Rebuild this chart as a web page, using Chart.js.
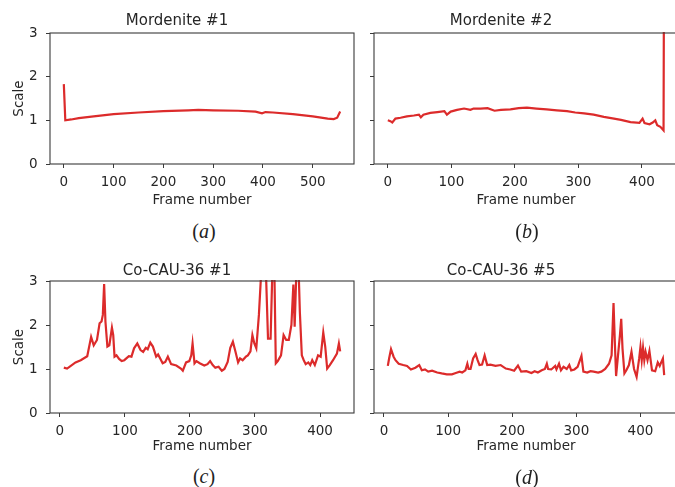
<!DOCTYPE html>
<html lang="en">
<head>
    <meta charset="UTF-8">
    <title>Scale vs frame number</title>
    <script src="https://cdn.jsdelivr.net/npm/chart.js"></script>
    <style>
        body { margin: 0; width: 675px; height: 487px; overflow: hidden; background: #fff; position: relative; }
        canvas { position: absolute; }
        .cap { position: absolute; font-family: "Liberation Serif", serif; font-size: 20px; color: #222; transform: translate(-50%, -50%); }
    </style>
</head>
<body>
    <canvas id="chartA" width="356" height="213" style="left:0px; top:0px"></canvas>
    <canvas id="chartB" width="356" height="213" style="left:324px; top:0px"></canvas>
    <canvas id="chartC" width="356" height="211" style="left:0px; top:248px"></canvas>
    <canvas id="chartD" width="356" height="211" style="left:324px; top:248px"></canvas>
    <div class="cap" style="left:204px; top:231px">(<i>a</i>)</div>
    <div class="cap" style="left:527px; top:231px">(<i>b</i>)</div>
    <div class="cap" style="left:204px; top:476px">(<i>c</i>)</div>
    <div class="cap" style="left:527px; top:477px">(<i>d</i>)</div>
    <script>
        // values
        const titles = ["Mordenite #1", "Mordenite #2", "Co-CAU-36 #1", "Co-CAU-36 #5"];
        const scaleTicks = [0, 1, 2, 3];
        const frameTicksA = [0, 100, 200, 300, 400, 500];
        const frameTicks = [0, 100, 200, 300, 400];

        const framesA = [0, 3, 15, 30, 60, 100, 150, 200, 250, 270, 300, 350, 385, 398, 405, 420, 460, 500, 530, 542, 549, 555];
        const scalesA = [1.83, 1.00, 1.02, 1.05, 1.09, 1.14, 1.18, 1.21, 1.23, 1.24, 1.23, 1.22, 1.20, 1.16, 1.19, 1.18, 1.14, 1.09, 1.04, 1.03, 1.06, 1.20];

        const framesB = [0, 4, 7, 12, 20, 30, 41, 49, 52, 56, 67, 78, 89, 93, 99, 109, 120, 130, 135, 146, 157, 168, 178, 193, 206, 219, 234, 250, 266, 282, 295, 309, 324, 340, 356, 367, 382, 396, 401, 404, 412, 417, 421, 424, 429, 434, 435];
        const scalesB = [1.00, 0.98, 0.95, 1.04, 1.06, 1.09, 1.11, 1.13, 1.07, 1.13, 1.17, 1.19, 1.21, 1.13, 1.20, 1.24, 1.27, 1.24, 1.27, 1.27, 1.28, 1.22, 1.24, 1.25, 1.28, 1.29, 1.27, 1.25, 1.23, 1.21, 1.18, 1.16, 1.13, 1.08, 1.04, 1.01, 0.96, 0.94, 1.04, 0.94, 0.91, 0.95, 1.00, 0.89, 0.85, 0.77, 6.0];

        const framesC = [6, 11, 24, 32, 42, 48, 52, 57, 61, 64, 66, 68, 70, 73, 76, 80, 82, 84, 87, 91, 95, 99, 106, 110, 114, 119, 124, 128, 132, 135, 139, 143, 148, 151, 158, 162, 166, 171, 179, 186, 189, 194, 199, 202, 204, 207, 210, 215, 222, 227, 231, 235, 239, 244, 249, 253, 258, 262, 266, 270, 274, 277, 281, 286, 289, 293, 296, 299, 302, 306, 309, 312, 316, 320, 324, 327, 329, 332, 335, 340, 344, 348, 352, 356, 359, 361, 364, 366, 369, 372, 375, 378, 382, 385, 388, 392, 397, 401, 405, 408, 411, 415, 420, 426, 429, 431];
        const scalesC = [1.03, 1.01, 1.15, 1.20, 1.29, 1.73, 1.54, 1.66, 2.04, 2.08, 2.23, 2.93, 2.08, 1.51, 1.54, 1.94, 1.77, 1.28, 1.31, 1.23, 1.18, 1.20, 1.29, 1.28, 1.47, 1.58, 1.43, 1.39, 1.48, 1.45, 1.60, 1.51, 1.28, 1.33, 1.13, 1.16, 1.28, 1.11, 1.08, 1.01, 0.96, 1.15, 1.18, 1.31, 1.58, 1.13, 1.18, 1.13, 1.08, 1.11, 1.18, 1.09, 1.03, 1.05, 0.96, 1.00, 1.16, 1.48, 1.62, 1.39, 1.15, 1.24, 1.20, 1.28, 1.31, 1.40, 1.77, 1.58, 1.47, 2.23, 3.05, 4.2, 3.6, 1.69, 1.69, 3.4, 4.0, 1.13, 1.18, 1.31, 1.77, 1.66, 1.66, 2.00, 2.92, 1.96, 3.4, 3.8, 2.29, 1.31, 1.20, 1.11, 1.15, 1.09, 1.20, 1.09, 1.31, 1.28, 1.83, 1.51, 1.01, 1.09, 1.20, 1.35, 1.58, 1.40];

        const framesD = [6, 8, 11, 15, 18, 23, 30, 36, 42, 49, 55, 59, 64, 69, 75, 83, 90, 98, 106, 112, 118, 122, 127, 130, 132, 135, 139, 143, 146, 149, 153, 157, 161, 166, 174, 182, 190, 197, 203, 209, 214, 222, 230, 235, 240, 246, 251, 254, 256, 261, 267, 269, 273, 276, 280, 285, 289, 292, 297, 302, 308, 311, 317, 322, 327, 334, 339, 345, 351, 355, 358, 360, 362, 365, 368, 370, 372, 375, 378, 382, 386, 390, 394, 398, 400, 402, 404, 406, 408, 411, 414, 418, 423, 427, 430, 435, 437];
        const scalesD = [1.07, 1.24, 1.45, 1.28, 1.20, 1.12, 1.09, 1.07, 0.99, 1.03, 1.09, 0.97, 0.99, 0.94, 0.96, 0.92, 0.90, 0.88, 0.88, 0.91, 0.94, 0.92, 0.97, 1.12, 1.00, 1.00, 1.24, 1.34, 1.20, 1.09, 1.10, 1.31, 1.09, 1.10, 1.07, 1.09, 1.01, 0.99, 0.96, 1.08, 0.94, 0.95, 0.91, 0.95, 0.92, 0.97, 1.00, 1.12, 1.00, 0.99, 1.07, 0.99, 1.12, 0.97, 1.05, 1.00, 1.09, 0.97, 0.99, 1.05, 1.30, 0.94, 0.92, 0.95, 0.94, 0.92, 0.94, 1.00, 1.12, 1.31, 2.50, 1.62, 0.84, 1.31, 1.77, 2.14, 1.47, 0.90, 0.97, 1.09, 1.39, 1.00, 0.82, 1.24, 1.50, 1.20, 1.48, 1.20, 1.39, 1.20, 1.41, 0.97, 0.95, 1.15, 1.07, 1.24, 0.86];

        const font = "'DejaVu Sans', sans-serif";
        const textColor = '#262626';
        const axisColor = '#3a3a3a';
        const lineColor = '#dc2b2b';

        const boxPlugin = {
            id: 'box',
            afterDatasetsDraw(chart) {
                const a = chart.chartArea;
                const ctx = chart.ctx;
                ctx.save();
                ctx.strokeStyle = axisColor;
                ctx.lineWidth = 1.1;
                ctx.strokeRect(a.left, a.top, a.right - a.left, a.bottom - a.top);
                ctx.restore();
            }
        };

        function makeChart(id, title, frames, scales, xMin, xMax, xTicks, left, topRow)
        {
            const points = frames.map((f, i) => ({ x: f, y: scales[i] }));
            new Chart(document.getElementById(id), {
                type: 'line',
                data: {
                    datasets: [{
                        data: points,
                        borderColor: lineColor,
                        borderWidth: 2.2,
                        pointRadius: 0,
                        tension: 0,
                        clip: 1
                    }]
                },
                plugins: [boxPlugin],
                options: {
                    responsive: false,
                    animation: false,
                    devicePixelRatio: 1,
                    layout: { padding: { left: 0, right: 2, top: 0, bottom: 0 } },
                    plugins: {
                        legend: { display: false },
                        tooltip: { enabled: false },
                        title: {
                            display: true,
                            text: title,
                            color: textColor,
                            font: { family: font, size: 15, weight: 'normal' },
                            padding: topRow ? { top: 12, bottom: 3 } : { top: 14, bottom: 1 }
                        }
                    },
                    scales: {
                        x: {
                            type: 'linear',
                            min: xMin,
                            max: xMax,
                            afterBuildTicks: s => { s.ticks = xTicks.map(v => ({ value: v })); },
                            afterFit: s => { s.height = topRow ? 49 : 46; },
                            grid: { drawOnChartArea: false, drawTicks: true, tickLength: 4, color: axisColor },
                            border: { display: false },
                            ticks: { color: textColor, font: { family: font, size: 13.5 }, padding: 6.4, maxRotation: 0 },
                            title: { display: true, text: 'Frame number', color: textColor, font: { family: font, size: 13.5 }, padding: { top: 0, bottom: 4 } }
                        },
                        y: {
                            min: 0,
                            max: 3,
                            afterBuildTicks: s => { s.ticks = scaleTicks.map(v => ({ value: v })); },
                            afterFit: s => { s.width = 50; },
                            grid: { drawOnChartArea: false, drawTicks: true, tickLength: 4, color: axisColor },
                            border: { display: false },
                            ticks: { display: left, color: textColor, font: { family: font, size: 13.5 }, padding: 8.5 },
                            title: { display: left, text: 'Scale', color: textColor, font: { family: font, size: 13.5 }, padding: { top: 11.2, bottom: 0 } }
                        }
                    }
                }
            });
        }

        makeChart('chartA', titles[0], framesA, scalesA, -27.75, 582.75, frameTicksA, true, true);
        makeChart('chartB', titles[1], framesB, scalesB, -21.75, 456.75, frameTicks, false, true);
        makeChart('chartC', titles[2], framesC, scalesC, -15.25, 452.25, frameTicks, true, false);
        makeChart('chartD', titles[3], framesD, scalesD, -15.55, 458.55, frameTicks, false, false);
    </script>
</body>
</html>
